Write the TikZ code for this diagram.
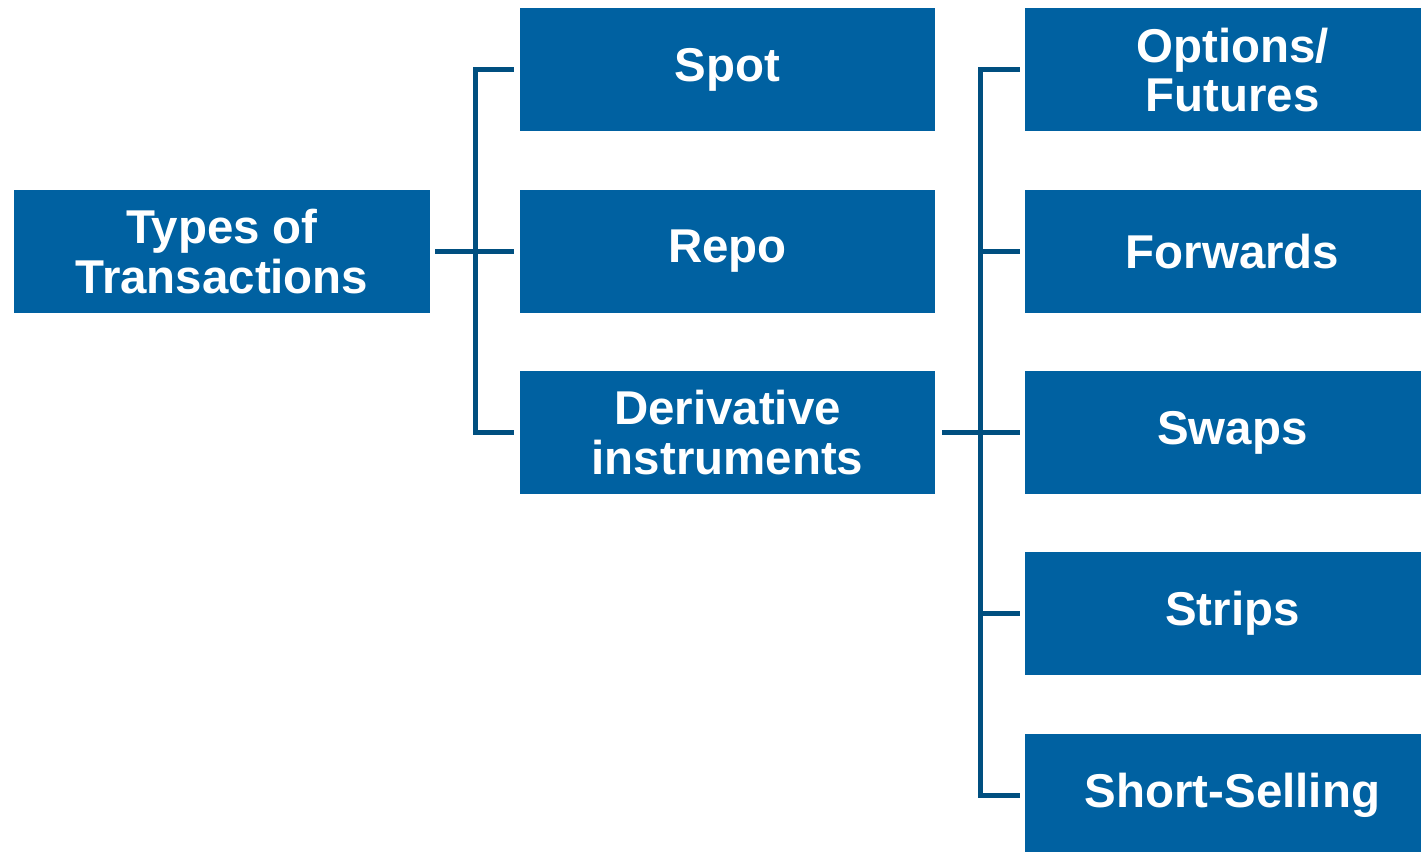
\documentclass[tikz,border=0pt]{standalone}
\usepackage{fontspec}
\setmainfont{Liberation Sans}
\usetikzlibrary{calc}
\definecolor{boxblue}{HTML}{0061A1}
\definecolor{linkblue}{HTML}{004F80}

\begin{document}
\begin{tikzpicture}[
    box/.style={fill=boxblue, text=white, font=\fontsize{27}{28}\selectfont\bfseries,
        align=center, minimum width=8.3cm, minimum height=2.46cm, inner sep=0pt},
    link/.style={draw=linkblue, line width=0.1cm},
]
\clip (0,0) rectangle (28.42,17.02);

% root
\node[box, minimum width=8.32cm] (types) at (4.44,11.99) {Types of\\Transactions};

% middle column
\node[box] (spot)  at (14.55,15.62) {Spot};
\node[box] (repo)  at (14.55,11.99) {Repo};
\node[box] (deriv) at (14.55,8.37) {Derivative\\instruments};

% right column (runs off the page edge)
\node[box] (options)  at (24.65,15.62) {Options/\\Futures};
\node[box] (forwards) at (24.65,11.99) {Forwards};
\node[box] (swaps)    at (24.65,8.37) {Swaps};
\node[box] (strips)   at (24.65,4.75) {Strips};
\node[box] (short)    at (24.65,1.12) {Short-Selling};

% first bracket
\coordinate (j1) at ($(types.east)!0.5!(repo.west)$);
\draw[link] ([xshift=0.1cm]types.east) -- ([xshift=-0.12cm]repo.west);
\draw[link] ([xshift=-0.12cm]spot.west) -| (j1) |- ([xshift=-0.12cm]deriv.west);

% second bracket
\coordinate (j2) at ($(deriv.east)!0.5!(swaps.west)$);
\draw[link] ([xshift=0.14cm]deriv.east) -- ([xshift=-0.1cm]swaps.west);
\draw[link] ([xshift=-0.1cm]options.west) -| (j2) |- ([xshift=-0.1cm]short.west);
\draw[link] (j2 |- forwards.west) -- ([xshift=-0.1cm]forwards.west);
\draw[link] (j2 |- strips.west) -- ([xshift=-0.1cm]strips.west);

\end{tikzpicture}
\end{document}
